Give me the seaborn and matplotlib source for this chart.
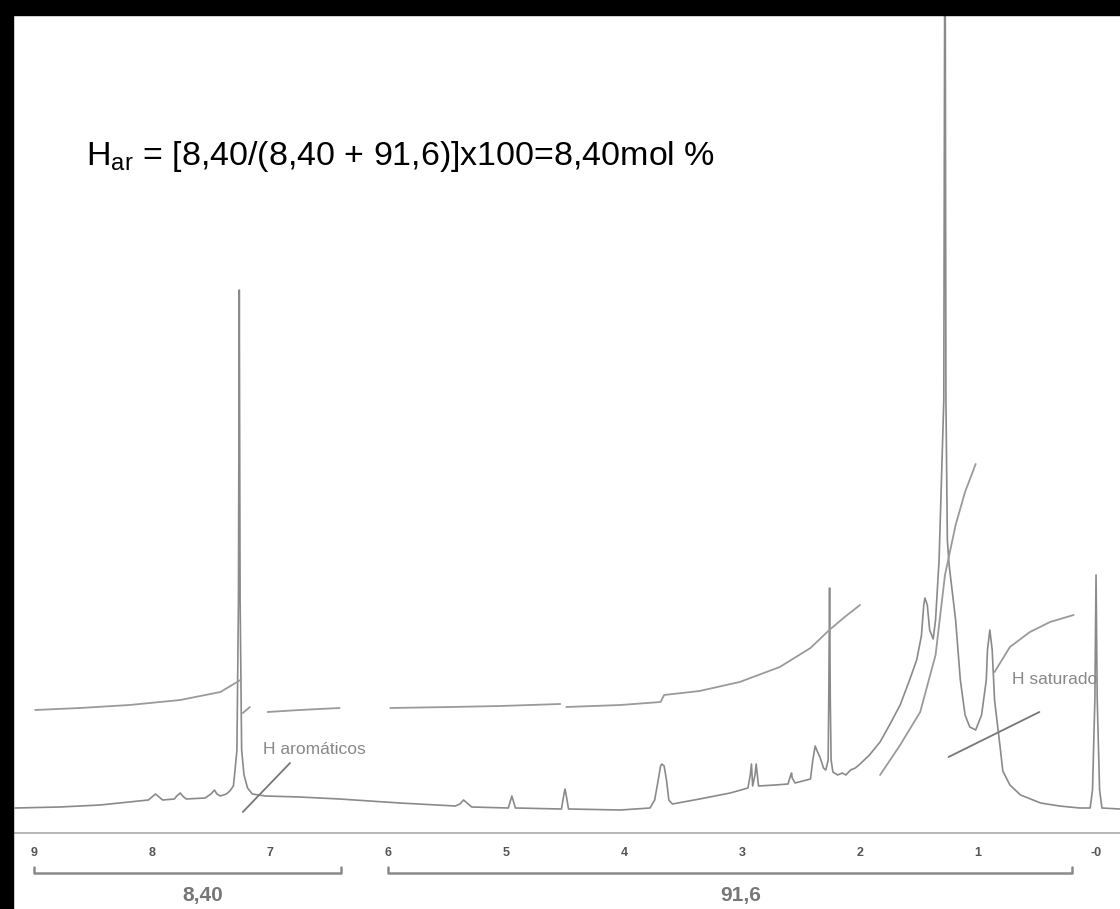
import matplotlib
matplotlib.use("Agg")
import matplotlib.pyplot as plt
import seaborn as sns
import pandas as pd
from matplotlib.patches import Rectangle

# chemical shift (ppm) and intensity
spec_ppm = [9.16, 8.78, 8.44, 8.19, 8.03, 8.00, 7.97, 7.94, 7.91, 7.81, 7.79, 7.76, 7.74, 7.71,
            7.55, 7.50, 7.47, 7.45, 7.42, 7.37, 7.34, 7.31, 7.30, 7.28, 7.267, 7.26, 7.253, 7.24,
            7.22, 7.19, 7.15, 7.04, 6.75, 6.41, 5.90, 5.43, 5.39, 5.36, 5.32, 5.29, 4.98, 4.96,
            4.95, 4.94, 4.92, 4.53, 4.51, 4.50, 4.49, 4.47, 4.03, 3.78, 3.74, 3.71, 3.69, 3.68,
            3.66, 3.64, 3.62, 3.59, 3.36, 3.10, 2.95, 2.93, 2.92, 2.915, 2.91, 2.89, 2.88, 2.87,
            2.86, 2.72, 2.61, 2.59, 2.58, 2.575, 2.55, 2.42, 2.40, 2.38, 2.36, 2.34, 2.32, 2.31,
            2.29, 2.27, 2.265, 2.258, 2.252, 2.245, 2.23, 2.19, 2.15, 2.12, 2.08, 2.04, 2.00, 1.92,
            1.83, 1.75, 1.66, 1.58, 1.52, 1.48, 1.46, 1.45, 1.43, 1.41, 1.38, 1.36, 1.33, 1.29,
            1.28, 1.272, 1.26, 1.245, 1.23, 1.19, 1.15, 1.11, 1.07, 1.02, 0.97, 0.93, 0.92, 0.90,
            0.88, 0.86, 0.81, 0.79, 0.73, 0.64, 0.47, 0.31, 0.14, 0.05, 0.03, 0.01, 0.00, -0.01,
            -0.03, -0.05, -0.20]
spec_int = [25, 26, 28, 31, 33, 36, 39, 36, 33, 34, 37, 40, 37, 34,
            35, 39, 43, 39, 37, 39, 42, 47, 58, 83, 233, 543, 233, 83,
            58, 45, 39, 37, 36, 34, 30, 27, 29, 33, 29, 26, 25, 33,
            37, 33, 25, 24, 38, 44, 38, 24, 23, 25, 33, 53, 67, 69,
            67, 53, 33, 29, 34, 40, 45, 58, 69, 58, 47, 58, 69, 58,
            47, 48, 49, 57, 60, 55, 50, 54, 73, 87, 81, 76, 69, 65,
            63, 73, 133, 245, 133, 73, 61, 58, 60, 58, 63, 65, 69, 78,
            91, 108, 128, 153, 173, 197, 228, 235, 228, 203, 194, 213, 273, 433,
            1000, 433, 293, 268, 253, 213, 153, 118, 106, 103, 118, 153, 183, 203,
            183, 133, 83, 62, 48, 38, 30, 27, 25, 25, 43, 133, 258, 133,
            43, 25, 24]

# integral traces (same units), one list per segment
integrals = [
    ([8.99, 8.61, 8.19, 7.76, 7.42, 7.25], [123, 125, 128, 133, 141, 153]),
    ([7.23, 7.17], [120, 126]),
    ([7.02, 6.75, 6.41], [121, 123, 125]),
    ([5.98, 5.47, 5.05, 4.54], [125, 126, 127, 129]),
    ([4.49, 4.03, 3.69, 3.66, 3.36, 3.02, 2.68, 2.42, 2.26, 2.13, 2.00],
     [126, 128, 131, 138, 142, 151, 166, 185, 203, 216, 228]),
    ([1.83, 1.66, 1.49, 1.36, 1.28, 1.19, 1.11, 1.02], [58, 88, 121, 178, 258, 308, 341, 369]),
    ([0.86, 0.73, 0.56, 0.39, 0.19], [161, 186, 201, 211, 218]),
]

tick_ppm = [9, 8, 7, 6, 5, 4, 3, 2, 1, 0]
tick_labels = ["9", "8", "7", "6", "5", "4", "3", "2", "1", "-0"]

# integration ranges and their values
ranges = [(9.0, 6.4), (6.0, 0.2)]
range_values = ["8,40", "91,6"]

sns.set_style("white")
plt.rcParams['font.family'] = ['Liberation Sans', 'DejaVu Sans']
plt.rcParams['mathtext.fontset'] = 'custom'
plt.rcParams['mathtext.rm'] = 'Liberation Sans'

fig = plt.figure(figsize=(11.2, 9.09), dpi=100)
ax = fig.add_axes([14 / 1120, 0, 1106 / 1120, 893 / 909])

spec_df = pd.DataFrame({"ppm": spec_ppm, "intensity": spec_int})
sns.lineplot(data=spec_df, x="ppm", y="intensity", sort=False, color="#8a8a8a", lw=1.2, ax=ax)
for xs, ys in integrals:
    ax.plot(xs, ys, color="#9a9a9a", lw=1.3)

ax.set_xlim(9.169, -0.203)
ax.set_ylim(-76, 817)

# ppm scale drawn as a spine at intensity zero
for s in ["top", "right", "left"]:
    ax.spines[s].set_visible(False)
ax.spines["bottom"].set_position(("data", 0))
ax.spines["bottom"].set_color("#aaaaaa")
ax.spines["bottom"].set_linewidth(1.2)
ax.set_xticks(tick_ppm)
ax.set_xticklabels(tick_labels)
ax.set_xticks([t / 5 for t in range(0, 46)], minor=True)
ax.tick_params(axis="x", which="major", direction="out", length=6, width=1.2, color="#999999",
               labelsize=9, labelcolor="#555555", pad=4)
ax.tick_params(axis="x", which="minor", direction="out", length=4, width=1, color="#aaaaaa")
for lab in ax.get_xticklabels():
    lab.set_fontweight("bold")
ax.set_yticks([])
ax.set_xlabel("")
ax.set_ylabel("")

# integration brackets
for (a, b), val in zip(ranges, range_values):
    ax.plot([a, a, b, b], [-34, -40, -40, -34], color="#8a8a8a", lw=1.8)
ax.text(7.57, -62, range_values[0], ha="center", va="center", fontsize=15, color="#777777",
        fontweight="bold")
ax.text(3.01, -62, range_values[1], ha="center", va="center", fontsize=15, color="#777777",
        fontweight="bold")

# annotations
ax.plot([7.23, 6.83], [21, 70], color="#777777", lw=1.3)
ax.text(7.06, 83, "H aromáticos", ha="left", va="center", fontsize=12.5, color="#888888")
ax.plot([1.25, 0.48], [76, 121], color="#777777", lw=1.3)
ax.text(0.71, 154, "H saturado", ha="left", va="center", fontsize=12.5, color="#888888")

ax.text(8.56, 677, r"H$_{\mathrm{ar}}$ = [8,40/(8,40 + 91,6)]x100=8,40mol %", ha="left",
        va="center", fontsize=24.5, color="black")

# black frame of the scanned picture
fig.patches.append(Rectangle((0, 0), 13 / 1120, 1, transform=fig.transFigure, color="black"))
fig.patches.append(Rectangle((0, 1 - 15 / 909), 1, 15 / 909, transform=fig.transFigure,
                             color="black"))

fig.savefig("out.png", dpi=100)
